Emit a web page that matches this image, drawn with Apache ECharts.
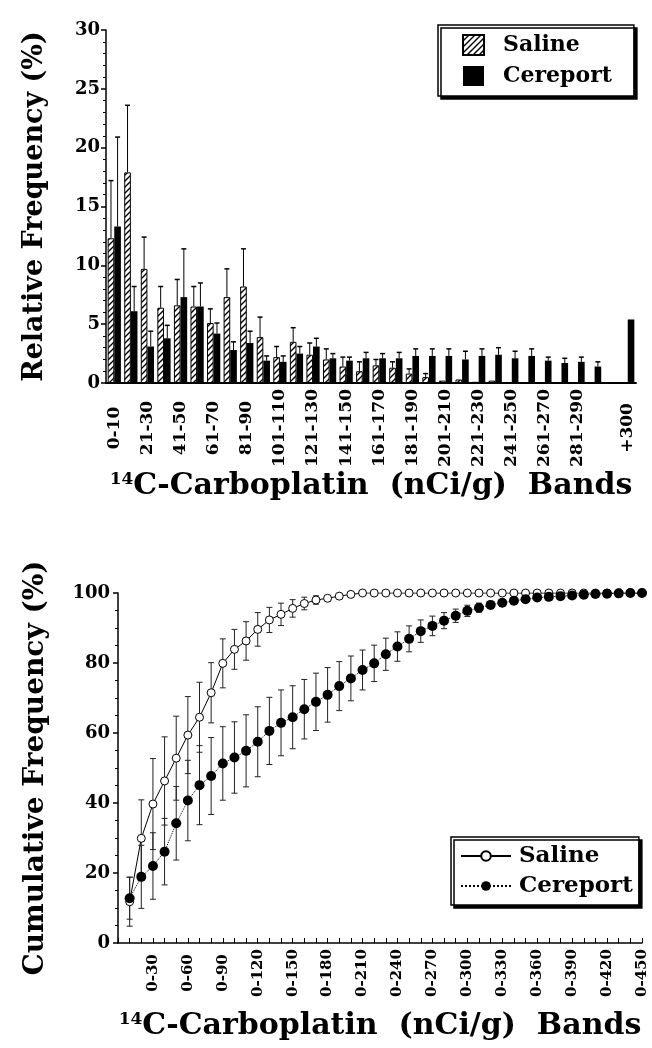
<!DOCTYPE html>
<html lang="en">
<head>
<meta charset="UTF-8">
<title>Carboplatin bands</title>
<style>
  html, body { margin: 0; padding: 0; background: #fff; }
  #chart { width: 652px; height: 1048px; }
</style>
</head>
<body>
<div id="chart"></div>
<script src="https://cdn.jsdelivr.net/npm/echarts@6/dist/echarts.min.js"></script>
<script>
  // ---- top panel: relative frequency per band ----
  var bands = ['0-10', '11-20', '21-30', '31-40', '41-50', '51-60', '61-70', '71-80', '81-90', '91-100',
    '101-110', '111-120', '121-130', '131-140', '141-150', '151-160', '161-170', '171-180', '181-190', '191-200',
    '201-210', '211-220', '221-230', '231-240', '241-250', '251-260', '261-270', '271-280', '281-290', '291-300',
    '', '+300'];
  var salineRel = [12.3, 17.9, 9.7, 6.4, 6.6, 6.5, 5.1, 7.3, 8.2, 3.9,
    2.2, 3.5, 2.4, 2.0, 1.4, 1.0, 1.5, 1.3, 0.8, 0.5,
    0.2, 0.3, 0.1, 0.2, 0, 0, 0, 0, 0, 0,
    null, 0];
  var salineRelErr = [4.9, 5.7, 2.7, 1.8, 2.2, 1.7, 1.2, 2.4, 3.2, 1.7,
    0.9, 1.2, 1.0, 0.9, 0.8, 0.8, 0.5, 0.5, 0.4, 0.3,
    0, 0, 0, 0, 0, 0, 0, 0, 0, 0,
    0, 0];
  var cereRel = [13.3, 6.1, 3.1, 3.8, 7.3, 6.5, 4.2, 2.8, 3.4, 1.9,
    1.8, 2.5, 3.1, 2.1, 1.9, 2.1, 2.1, 2.1, 2.3, 2.3,
    2.3, 2.0, 2.3, 2.4, 2.1, 2.3, 1.9, 1.7, 1.8, 1.4,
    null, 5.4];
  var cereRelErr = [7.6, 2.1, 1.3, 1.1, 4.1, 2.0, 0.9, 0.7, 1.0, 0.4,
    0.5, 0.6, 0.7, 0.4, 0.3, 0.5, 0.4, 0.5, 0.6, 0.6,
    0.6, 0.7, 0.6, 0.6, 0.6, 0.6, 0.3, 0.4, 0.4, 0.4,
    0, 0];
  var relTicks = [0, 30, 5];

  // ---- bottom panel: cumulative frequency ----
  var cumUpper = [10, 20, 30, 40, 50, 60, 70, 80, 90, 100, 110, 120, 130, 140, 150,
    160, 170, 180, 190, 200, 210, 220, 230, 240, 250, 260, 270, 280, 290, 300,
    310, 320, 330, 340, 350, 360, 370, 380, 390, 400, 410, 420, 430, 440, 450];
  var salineCum = [11.8, 29.9, 39.7, 46.3, 52.8, 59.4, 64.5, 71.5, 79.9, 83.9,
    86.3, 89.6, 92.3, 93.9, 95.6, 97.0, 98.0, 98.5, 99.1, 99.6,
    100, 100, 100, 100, 100, 100, 100, 100, 100, 100,
    100, 100, 100, 100, 100, 100, 100, 100, 100, 100,
    100, 100, 100, 100, 100];
  var salineCumErr = [7, 11, 13, 12.6, 12, 11, 10, 8.6, 7, 5.7,
    5.5, 4.8, 3.6, 3.2, 2.5, 1.8, 1.2, 0.8, 0.5, 0.3,
    0, 0, 0, 0, 0, 0, 0, 0, 0, 0,
    0, 0, 0, 0, 0, 0, 0, 0, 0, 0,
    0, 0, 0, 0, 0];
  var cereCum = [12.8, 18.9, 22.0, 26.1, 34.2, 40.7, 45.1, 47.7, 51.3, 53.0,
    54.9, 57.5, 60.6, 62.9, 64.5, 66.8, 68.9, 70.9, 73.4, 75.6,
    78.0, 79.9, 82.5, 84.7, 86.9, 89.1, 90.6, 92.1, 93.5, 94.9,
    95.8, 96.6, 97.2, 97.8, 98.2, 98.7, 98.9, 99.1, 99.3, 99.5,
    99.7, 99.8, 99.9, 100, 100];
  var cereCumErr = [6, 9, 9.5, 9.5, 10.5, 11.5, 11.3, 11, 10.5, 10.2,
    10.3, 10, 9.6, 9.4, 9, 8.5, 8.2, 7.8, 7, 6.4,
    5.7, 5.2, 4.6, 4.2, 3.7, 3.2, 2.8, 2.3, 1.9, 1.6,
    1.3, 1.0, 0.8, 0.6, 0.4, 0.3, 0.2, 0.1, 0, 0,
    0, 0, 0, 0, 0];
  var cumTicks = [0, 100, 20];

  var serif = "'DejaVu Serif', serif";

  // diagonal hatch for the saline bars
  var hatch = document.createElement('canvas');
  hatch.width = 6; hatch.height = 6;
  var hc = hatch.getContext('2d');
  hc.fillStyle = '#fff';
  hc.fillRect(0, 0, 6, 6);
  hc.strokeStyle = '#000';
  hc.lineWidth = 1.4;
  hc.beginPath();
  hc.moveTo(0, 6); hc.lineTo(6, 0);
  hc.moveTo(-1, 1); hc.lineTo(1, -1);
  hc.moveTo(5, 7); hc.lineTo(7, 5);
  hc.stroke();

  function zipRel(vals, errs) {
    var out = [];
    for (var i = 0; i < vals.length; i++) {
      if (vals[i] != null && errs[i] > 0) out.push([i, vals[i], errs[i]]);
    }
    return out;
  }
  function zipCum(vals, errs) {
    var out = [];
    for (var i = 0; i < vals.length; i++) {
      if (errs[i] > 0) out.push([cumUpper[i], vals[i], errs[i]]);
    }
    return out;
  }

  // upward-only error bars sitting on a bar (side: -1 left bar, +1 right bar)
  function barErr(side) {
    return function (params, api) {
      var i = api.value(0), v = api.value(1), e = api.value(2);
      var band = api.size([1, 0])[0];
      var p0 = api.coord([i, v]);
      var p1 = api.coord([i, v + e]);
      var x = p0[0] + side * band * 0.2;
      return {
        type: 'group',
        children: [
          { type: 'line', shape: { x1: x, y1: p0[1], x2: x, y2: p1[1] }, style: { stroke: '#000', lineWidth: 1 } },
          { type: 'line', shape: { x1: x - 2.5, y1: p1[1], x2: x + 2.5, y2: p1[1] }, style: { stroke: '#000', lineWidth: 1.5 } }
        ]
      };
    };
  }
  function cumErr(params, api) {
    var x = api.value(0), v = api.value(1), e = api.value(2);
    var lo = api.coord([x, v - e]);
    var hi = api.coord([x, v + e]);
    var px = lo[0];
    var st = { stroke: '#222', lineWidth: 1 };
    return {
      type: 'group',
      children: [
        { type: 'line', shape: { x1: px, y1: lo[1], x2: px, y2: hi[1] }, style: st },
        { type: 'line', shape: { x1: px - 3, y1: lo[1], x2: px + 3, y2: lo[1] }, style: st },
        { type: 'line', shape: { x1: px - 3, y1: hi[1], x2: px + 3, y2: hi[1] }, style: st }
      ]
    };
  }

  var nameRich = {
    sup: { fontFamily: serif, fontWeight: 'bold', fontSize: 17, verticalAlign: 'top', padding: [0, 0, 14, 0] },
    big: { fontFamily: serif, fontWeight: 'bold', fontSize: 30 }
  };
  var xName = '{sup|14}{big|C-Carboplatin  (nCi/g)  Bands}';

  var chart = echarts.init(document.getElementById('chart'), null, { renderer: 'canvas' });
  var option = {
    backgroundColor: '#fff',
    animation: false,
    textStyle: { fontFamily: serif, color: '#000' },
    grid: [
      { left: 106, top: 30, width: 530, height: 353, containLabel: false, outerBoundsMode: 'none' },
      { left: 118, top: 593, width: 524, height: 350, containLabel: false, outerBoundsMode: 'none' }
    ],
    legend: [
      {
        orient: 'vertical', left: 438, top: 25,
        data: ['Saline', 'Cereport'],
        icon: 'rect',
        itemWidth: 21, itemHeight: 20, itemGap: 7,
        padding: [8, 22, 8, 24],
        backgroundColor: '#fff', borderColor: '#000', borderWidth: 1.5,
        shadowColor: '#000', shadowBlur: 0, shadowOffsetX: 3, shadowOffsetY: 3,
        textStyle: { fontFamily: serif, fontWeight: 'bold', fontSize: 22, color: '#000', padding: [0, 0, 0, 14], lineHeight: 24 }
      },
      {
        orient: 'vertical', left: 451, top: 837,
        data: ['Saline cum', 'Cereport cum'],
        formatter: function (n) { return n.split(' ')[0]; },
        itemWidth: 50, itemHeight: 12, itemGap: 6,
        padding: [7, 6, 7, 9],
        backgroundColor: '#fff', borderColor: '#000', borderWidth: 1.5,
        shadowColor: '#000', shadowBlur: 0, shadowOffsetX: 3, shadowOffsetY: 3,
        textStyle: { fontFamily: serif, fontWeight: 'bold', fontSize: 23, color: '#000', padding: [0, 0, 0, 3], lineHeight: 24 }
      }
    ],
    xAxis: [
      {
        type: 'category', gridIndex: 0, data: bands, boundaryGap: true,
        axisLine: { lineStyle: { color: '#000', width: 2 } },
        axisTick: { show: false },
        axisLabel: {
          rotate: 90, align: 'center', verticalAlign: 'middle', margin: 45,
          interval: function (i, v) { return i % 2 === 0 || v === '+300'; },
          fontFamily: serif, fontWeight: 'bold', fontSize: 17, color: '#000'
        },
        name: xName, nameLocation: 'middle', nameGap: 88, nameMoveOverlap: false,
        nameTextStyle: { rich: nameRich, color: '#000' }
      },
      {
        type: 'value', gridIndex: 1, min: 0, max: 450, interval: 10,
        axisLine: { lineStyle: { color: '#000', width: 1.5 } },
        axisTick: { inside: true, length: 5, lineStyle: { color: '#000' } },
        splitLine: { show: false },
        axisLabel: {
          rotate: 90, align: 'center', verticalAlign: 'middle', margin: 30,
          formatter: function (v) { return v > 0 && v % 30 === 0 ? '0-' + v : ''; },
          fontFamily: serif, fontWeight: 'bold', fontSize: 15, color: '#000'
        },
        name: xName, nameLocation: 'middle', nameGap: 68, nameMoveOverlap: false,
        nameTextStyle: { rich: nameRich, color: '#000' }
      }
    ],
    yAxis: [
      {
        type: 'value', gridIndex: 0, min: relTicks[0], max: relTicks[1], interval: relTicks[2],
        axisLine: { show: true, lineStyle: { color: '#000', width: 1.5 } },
        axisTick: { show: true, length: 5, lineStyle: { color: '#000', width: 1.5 } },
        minorTick: { show: true, splitNumber: 5, length: 3, lineStyle: { color: '#000' } },
        splitLine: { show: false },
        axisLabel: { fontFamily: serif, fontWeight: 'bold', fontSize: 18, color: '#000', margin: 6 },
        name: 'Relative Frequency (%)', nameLocation: 'middle', nameGap: 58, nameMoveOverlap: false,
        nameTextStyle: { fontFamily: serif, fontWeight: 'bold', fontSize: 27, color: '#000' }
      },
      {
        type: 'value', gridIndex: 1, min: cumTicks[0], max: cumTicks[1], interval: cumTicks[2],
        axisLine: { show: true, lineStyle: { color: '#000', width: 1.5 } },
        axisTick: { show: true, length: 5, lineStyle: { color: '#000', width: 1.5 } },
        minorTick: { show: true, splitNumber: 4, length: 3, lineStyle: { color: '#000' } },
        splitLine: { show: false },
        axisLabel: { fontFamily: serif, fontWeight: 'bold', fontSize: 18, color: '#000', margin: 8 },
        name: 'Cumulative Frequency (%)', nameLocation: 'middle', nameGap: 68, nameMoveOverlap: false,
        nameTextStyle: { fontFamily: serif, fontWeight: 'bold', fontSize: 28, color: '#000' }
      }
    ],
    series: [
      {
        name: 'Saline', type: 'bar', xAxisIndex: 0, yAxisIndex: 0, data: salineRel,
        barGap: '0%', barCategoryGap: '20%',
        itemStyle: { color: { image: hatch, repeat: 'repeat' }, borderColor: '#000', borderWidth: 1 }
      },
      {
        name: 'Cereport', type: 'bar', xAxisIndex: 0, yAxisIndex: 0, data: cereRel,
        barGap: '0%', barCategoryGap: '20%',
        itemStyle: { color: '#000' }
      },
      {
        name: 'salineRelErr', type: 'custom', xAxisIndex: 0, yAxisIndex: 0, z: 3,
        renderItem: barErr(-1), data: zipRel(salineRel, salineRelErr), encode: { x: 0, y: 1 }
      },
      {
        name: 'cereRelErr', type: 'custom', xAxisIndex: 0, yAxisIndex: 0, z: 3,
        renderItem: barErr(1), data: zipRel(cereRel, cereRelErr), encode: { x: 0, y: 1 }
      },
      {
        name: 'salineCumErr', type: 'custom', xAxisIndex: 1, yAxisIndex: 1, z: 1,
        renderItem: cumErr, data: zipCum(salineCum, salineCumErr), encode: { x: 0, y: 1 }
      },
      {
        name: 'cereCumErr', type: 'custom', xAxisIndex: 1, yAxisIndex: 1, z: 1,
        renderItem: cumErr, data: zipCum(cereCum, cereCumErr), encode: { x: 0, y: 1 }
      },
      {
        name: 'Saline cum', type: 'line', xAxisIndex: 1, yAxisIndex: 1, z: 3,
        data: cumUpper.map(function (x, i) { return [x, salineCum[i]]; }),
        symbol: 'circle', symbolSize: 8, showAllSymbol: true,
        lineStyle: { color: '#000', width: 1 },
        itemStyle: { color: '#fff', borderColor: '#000', borderWidth: 1 }
      },
      {
        name: 'Cereport cum', type: 'line', xAxisIndex: 1, yAxisIndex: 1, z: 4,
        data: cumUpper.map(function (x, i) { return [x, cereCum[i]]; }),
        symbol: 'circle', symbolSize: 10, showAllSymbol: true,
        lineStyle: { color: '#000', width: 1, type: 'dotted' },
        itemStyle: { color: '#000' }
      }
    ]
  };
  chart.setOption(option);
</script>
</body>
</html>
